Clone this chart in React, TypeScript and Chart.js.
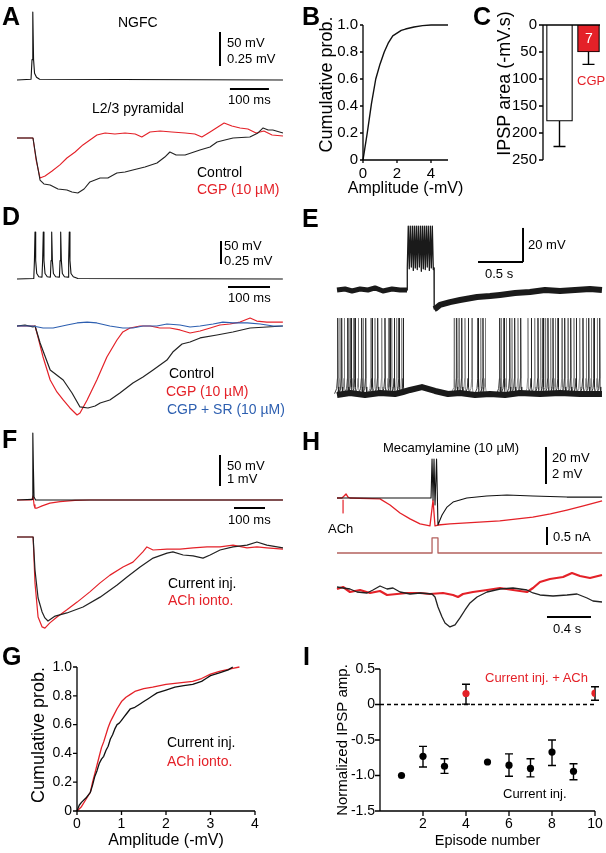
import React, { useEffect, useRef } from 'react';
import { Chart, registerables } from 'chart.js';

Chart.register(...registerables);

const FONT = '"Liberation Sans", Arial, Helvetica, sans-serif';
Chart.defaults.font.family = FONT;

const RED = '#e42128';
const BLUE = '#2d5fb0';
const STIM = '#b4615e';

// ---------------- Panel A (ms, mV) ----------------
const A_NGFC_T = [0, 36, 38.5, 40.5, 42.5, 45, 50, 58, 682];
const A_NGFC_V = [-60, -59, -30, 40, -30, -50, -56, -59, -60];
const A_CTRL_T = [0, 41, 49, 59, 69, 85, 105, 128, 141, 156, 172, 187, 213, 233, 256, 277, 297, 328, 359, 379, 392, 408, 431, 469, 495, 513, 533, 554, 597, 618, 631, 644, 656, 682];
const A_CTRL_V = [0, 0, -0.147, -0.309, -0.338, -0.345, -0.375, -0.382, -0.397, -0.404, -0.375, -0.323, -0.294, -0.294, -0.257, -0.25, -0.235, -0.213, -0.184, -0.14, -0.103, -0.125, -0.125, -0.088, -0.066, -0.029, -0.015, 0, 0.007, 0.037, 0.074, 0.059, 0.059, 0.037];
const A_CGP_T = [0, 41, 49, 59, 72, 90, 110, 128, 149, 169, 187, 205, 226, 251, 277, 303, 320, 341, 367, 397, 431, 456, 474, 495, 515, 531, 551, 572, 592, 613, 633, 654, 682];
const A_CGP_V = [0, 0, -0.162, -0.294, -0.279, -0.243, -0.198, -0.147, -0.103, -0.051, -0.015, 0.022, 0.037, 0.029, 0.037, 0.029, 0.007, 0.044, 0.051, 0.044, 0.037, 0.029, 0.007, 0.044, 0.081, 0.11, 0.088, 0.074, 0.066, 0.037, 0.051, 0.022, 0.015];

// ---------------- Panel B ----------------
const B_AMP = [0, 0.1, 0.25, 0.5, 0.75, 1.0, 1.25, 1.5, 1.75, 2.0, 2.25, 2.5, 3.0, 3.5, 4.0, 5.0];
const B_PROB = [0, 0.08, 0.2, 0.42, 0.6, 0.71, 0.8, 0.87, 0.92, 0.94, 0.96, 0.97, 0.985, 0.995, 1, 1];
const B_YTICKS = [0, 0.2, 0.4, 0.6, 0.8, 1.0];
const B_YLABELS = ['0', '0.2', '0.4', '0.6', '0.8', '1.0'];
const B_XTICKS = [0, 2, 4];
const B_XLABELS = ['0', '2', '4'];

// ---------------- Panel C ----------------
const C_GROUPS = ['Control', 'CGP'];
const C_AREA = [178, 50];
const C_ERR = [225, 73];
const C_YTICKS = [0, 50, 100, 150, 200, 250];
const C_YLABELS = ['0', '50', '100', '150', '200', '250'];

// ---------------- Panel D (ms, mV) ----------------
const D_NGFC_T = [0, 40, 41.5, 42.9, 44.5, 47, 52, 59.5, 61, 62.6, 64.2, 66.7, 72, 79.5, 81, 82.6, 84.2, 86.7, 92, 101, 102.5, 104, 105.6, 108, 113, 121.5, 123, 124.5, 126.1, 128.6, 134, 145, 633];
const D_NGFC_V = [-60, -59, -20, 42, -20, -48, -55, -56, -20, 42, -20, -48, -55, -56, -20, 42, -20, -48, -55, -56, -20, 42, -20, -48, -55, -56, -20, 42, -20, -48, -55, -59, -60];
const D_CTRL_T = [0, 19, 38, 43, 55, 79, 110, 131, 150, 169, 186, 198, 221, 245, 276, 300, 324, 357, 371, 393, 412, 436, 476, 514, 555, 595, 633];
const D_CTRL_V = [0, 0.011, -0.011, 0, -0.185, -0.478, -0.587, -0.728, -0.88, -0.891, -0.87, -0.837, -0.804, -0.728, -0.62, -0.554, -0.478, -0.37, -0.283, -0.196, -0.174, -0.13, -0.098, -0.065, -0.022, -0.011, 0];
const D_CGP_T = [0, 43, 50, 62, 79, 95, 110, 126, 143, 150, 167, 190, 214, 238, 252, 269, 293, 317, 340, 364, 388, 412, 436, 460, 483, 507, 531, 555, 571, 595, 633];
const D_CGP_V = [0, 0, -0.12, -0.337, -0.587, -0.717, -0.804, -0.891, -0.967, -0.946, -0.804, -0.587, -0.337, -0.152, -0.065, -0.022, 0, 0, -0.022, -0.022, -0.043, -0.076, -0.054, -0.022, 0.011, 0.022, 0.043, 0.087, 0.054, 0.043, 0.043];
const D_SR_T = [0, 38, 62, 86, 119, 143, 167, 190, 221, 252, 276, 300, 333, 357, 388, 412, 436, 467, 490, 514, 548, 579, 610, 633];
const D_SR_V = [0, 0, -0.022, -0.022, 0.011, 0.033, 0.043, 0.033, 0, -0.022, -0.022, 0, 0, 0.022, 0.011, -0.011, 0, 0.022, 0.043, 0.033, 0.033, 0.022, 0, 0];

// ---------------- Panel E (s, mV) ----------------
const E_PRE_T = [0, 0.089, 0.167, 0.256, 0.344, 0.422, 0.511, 0.611, 0.7, 0.778];
const E_PRE_V = [-60, -59.4, -60.6, -59.4, -60, -58.8, -60.6, -59.4, -60, -60];
const E_BURST_T = [0.778, 0.781, 0.792, 0.803, 0.814, 0.826, 0.837, 0.848, 0.859, 0.87, 0.881, 0.892, 0.903, 0.915, 0.926, 0.937, 0.948, 0.959, 0.97, 0.981, 0.992, 1.003, 1.014, 1.026, 1.037, 1.048, 1.059, 1.07, 1.078, 1.08];
const E_BURST_V = [-60, -47, -22.4, -47.5, -22.4, -46.5, -22.4, -48.5, -22.4, -47, -22.4, -48, -22.4, -46.5, -22.4, -49, -22.4, -47.5, -22.4, -48, -22.4, -46.5, -22.4, -48.5, -22.4, -47, -22.4, -48, -47, -71.2];
const E_POST_T = [1.08, 1.1, 1.144, 1.256, 1.367, 1.556, 1.7, 1.811, 1.978, 2.144, 2.311, 2.478, 2.644, 2.811, 2.944];
const E_POST_V = [-71.2, -70.6, -68.8, -67.1, -65.9, -64.1, -63.5, -62.9, -61.8, -61.2, -60, -60.6, -60, -59.4, -60];
const E_SPIKES = [0.008, 0.033, 0.052, 0.081, 0.119, 0.133, 0.156, 0.181, 0.2, 0.237, 0.274, 0.292, 0.319, 0.378, 0.392, 0.422, 0.452, 0.497, 0.533, 0.57, 0.589, 0.608, 0.637, 0.663, 0.689, 0.719, 0.737,
  1.303, 1.33, 1.356, 1.386, 1.422, 1.459, 1.5, 1.567, 1.597, 1.622, 1.648, 1.808, 1.826, 1.856, 1.881, 1.919, 1.944, 1.974, 2.011, 2.041, 2.122, 2.159, 2.197, 2.233, 2.263, 2.289, 2.314, 2.344, 2.374, 2.4, 2.426, 2.456, 2.5, 2.53, 2.567, 2.597, 2.633, 2.659, 2.697, 2.733, 2.77, 2.797, 2.826, 2.856, 2.892, 2.919];
const E_SPIKE_PEAK = -16.5;
const E_SPIKE_BASE = -60;
const E_BASE_T = [0, 0.144, 0.311, 0.478, 0.644, 0.733, 0.811, 0.944, 1.089, 1.233, 1.367, 1.533, 1.7, 1.867, 2.033, 2.256, 2.478, 2.7, 2.944];
const E_BASE_V = [-61.8, -60.6, -61.8, -60.6, -61.2, -60, -58.8, -57.1, -59.4, -61.2, -60.6, -61.8, -61.2, -61.8, -60.6, -61.2, -60.6, -61.2, -61.2];

// ---------------- Panel F (ms, mV) ----------------
const F_SPK_T = [0, 49, 50.5, 51.6, 53, 55, 60, 858];
const F_SPK_V = [-60, -59, -10, 48, -10, -55, -60, -60];
const F_TOPACH_T = [0, 48, 52, 55, 58, 65, 81, 106, 139, 187, 235, 858];
const F_TOPACH_V = [0, 0, 0.13, -0.16, -0.26, -0.26, -0.19, -0.1, -0.05, -0.015, 0, 0];
const F_CUR_T = [0, 52, 58, 68, 81, 90, 100, 123, 161, 213, 268, 323, 355, 397, 439, 484, 503, 536, 568, 600, 623, 655, 697, 742, 774, 806, 858];
const F_CUR_V = [0, 0, -1.065, -1.968, -2.42, -2.61, -2.71, -2.55, -2.45, -2.26, -1.94, -1.55, -1.29, -0.97, -0.68, -0.52, -0.48, -0.58, -0.61, -0.68, -0.58, -0.42, -0.32, -0.26, -0.16, -0.26, -0.35];
const F_ACH_T = [0, 52, 58, 68, 81, 90, 106, 129, 161, 194, 235, 268, 300, 342, 374, 406, 419, 439, 484, 526, 568, 613, 655, 697, 742, 774, 806, 858];
const F_ACH_V = [0, 0, -1.48, -2.58, -2.9, -2.94, -2.77, -2.58, -2.35, -2.1, -1.77, -1.48, -1.23, -0.97, -0.81, -0.48, -0.32, -0.42, -0.39, -0.39, -0.35, -0.32, -0.32, -0.26, -0.35, -0.32, -0.35, -0.39];

// ---------------- Panel G ----------------
const G_CUR_AMP = [0, 0.05, 0.1, 0.2, 0.3, 0.35, 0.4, 0.45, 0.5, 0.55, 0.6, 0.65, 0.7, 0.75, 0.8, 0.85, 0.9, 0.95, 1.0, 1.05, 1.1, 1.2, 1.3, 1.4, 1.5, 1.6, 1.7, 1.8, 2.0, 2.2, 2.4, 2.6, 2.8, 2.9, 3.0, 3.2, 3.4, 3.5];
const G_CUR_P = [0, 0.04, 0.06, 0.09, 0.13, 0.18, 0.24, 0.28, 0.33, 0.36, 0.38, 0.42, 0.45, 0.5, 0.53, 0.57, 0.6, 0.61, 0.63, 0.65, 0.67, 0.71, 0.72, 0.74, 0.76, 0.78, 0.8, 0.82, 0.84, 0.86, 0.87, 0.88, 0.9, 0.92, 0.94, 0.96, 0.98, 1.0];
const G_ACH_AMP = [0, 0.1, 0.2, 0.3, 0.35, 0.4, 0.5, 0.55, 0.6, 0.7, 0.75, 0.8, 0.9, 1.0, 1.1, 1.2, 1.3, 1.5, 1.7, 2.0, 2.3, 2.6, 2.8, 3.0, 3.2, 3.5, 3.65];
const G_ACH_P = [0, 0.03, 0.08, 0.13, 0.2, 0.26, 0.38, 0.44, 0.48, 0.58, 0.62, 0.65, 0.71, 0.76, 0.79, 0.81, 0.83, 0.85, 0.86, 0.88, 0.89, 0.9, 0.92, 0.95, 0.97, 0.99, 1.0];
const G_YTICKS = [0, 0.2, 0.4, 0.6, 0.8, 1.0];
const G_YLABELS = ['0', '0.2', '0.4', '0.6', '0.8', '1.0'];
const G_XTICKS = [0, 1, 2, 3, 4];
const G_XLABELS = ['0', '1', '2', '3', '4'];

// ---------------- Panel H (s, mV / nA) ----------------
const H_TOP_CTRL_T = [0, 0.391, 0.855, 0.864, 0.873, 0.882, 0.891, 0.905, 0.918, 0.936, 0.955, 1.0, 1.055, 1.18, 1.36, 1.545, 1.78, 2.09, 2.41];
const H_TOP_CTRL_V = [-60, -60, -60, -38.9, -61.1, -38.9, -63.8, -38.9, -74.6, -71.9, -69.2, -64.9, -62.2, -60, -58.9, -58.4, -58.9, -59.5, -59.5];
const H_TOP_ACH_T = [0, 0.045, 0.064, 0.082, 0.1, 0.118, 0.391, 0.482, 0.573, 0.664, 0.755, 0.845, 0.873, 0.891, 0.918, 1.027, 1.18, 1.48, 1.78, 1.94, 2.09, 2.24, 2.41];
const H_TOP_ACH_V = [-60, -60, -58.9, -57.8, -59.5, -60, -60.5, -63.8, -68.1, -71.3, -74, -75.1, -61.1, -75.1, -74.6, -74, -73.5, -72.4, -70.3, -68.6, -66.5, -64.3, -61.6];
const H_ACH_MARK_T = [0.055, 0.055];
const H_ACH_MARK_V = [-61.1, -68.1];
const H_STIM_T = [0, 0.864, 0.864, 0.918, 0.918, 2.41];
const H_STIM_I = [0, 0, 0.42, 0.42, 0, 0];
const H_BOT_CTRL_T = [0, 0.055, 0.118, 0.182, 0.273, 0.327, 0.391, 0.455, 0.509, 0.573, 0.664, 0.755, 0.864, 0.891, 0.918, 0.955, 0.982, 1.027, 1.073, 1.118, 1.164, 1.209, 1.273, 1.364, 1.482, 1.6, 1.727, 1.782, 1.845, 1.964, 2.091, 2.182, 2.273, 2.327, 2.409];
const H_BOT_CTRL_V = [0.162, 0.108, 0.054, -0.108, -0.162, 0, 0.216, 0.054, 0.108, -0.108, -0.216, -0.162, -0.216, -0.378, -0.918, -1.458, -1.782, -1.998, -1.89, -1.512, -1.08, -0.702, -0.378, -0.108, 0.054, 0.108, 0, -0.162, -0.27, -0.324, -0.27, -0.216, -0.432, -0.594, -0.648];
const H_BOT_ACH_T = [0, 0.055, 0.118, 0.209, 0.3, 0.391, 0.455, 0.545, 0.636, 0.755, 0.845, 0.964, 1.055, 1.1, 1.145, 1.236, 1.364, 1.482, 1.6, 1.727, 1.782, 1.845, 1.936, 2.055, 2.136, 2.209, 2.3, 2.409];
const H_BOT_ACH_V = [0.054, 0.162, -0.108, 0, -0.162, -0.054, -0.27, -0.216, -0.162, -0.162, -0.216, -0.162, -0.27, -0.378, -0.216, -0.108, 0, 0.108, 0, -0.108, 0.108, 0.432, 0.594, 0.702, 0.918, 0.756, 0.648, 0.81];

// ---------------- Panel I ----------------
const I_EP = [1, 2, 3, 5, 6, 7, 8, 9];
const I_VAL = [-1.0, -0.73, -0.87, -0.81, -0.855, -0.9, -0.67, -0.94];
const I_HI = [null, -0.59, -0.765, null, -0.695, -0.765, -0.5, -0.835];
const I_LO = [null, -0.88, -0.97, null, -1.01, -1.02, -0.86, -1.06];
const I_ACH_EP = [4, 10];
const I_ACH_VAL = [0.155, 0.16];
const I_ACH_HI = [0.286, 0.25];
const I_ACH_LO = [0.005, 0.06];
const I_YTICKS = [0.5, 0, -0.5, -1.0, -1.5];
const I_YLABELS = ['0.5', '0', '-0.5', '-1.0', '-1.5'];
const I_XTICKS = [2, 4, 6, 8, 10];
const I_XLABELS = ['2', '4', '6', '8', '10'];

// ---------------- helpers ----------------
type R = { min: number; max: number };
function hRange(cLeft: number, cWidth: number, px0: number, v0: number, ppu: number): R {
  return { min: v0 - (px0 - cLeft) / ppu, max: v0 + (cLeft + cWidth - px0) / ppu };
}
function vRange(cTop: number, cHeight: number, py0: number, v0: number, ppu: number): R {
  return { min: v0 - (cTop + cHeight - py0) / ppu, max: v0 + (py0 - cTop) / ppu };
}
function xy(ts: number[], vs: (number | null)[]) {
  return ts.map((t, i) => ({ x: t, y: vs[i] }));
}
function trace(ts: number[], vs: number[], color: string, width: number, axis: string): any {
  return {
    type: 'line', data: xy(ts, vs), borderColor: color, borderWidth: width, pointRadius: 0,
    tension: 0, fill: false, yAxisID: axis, clip: false, borderJoinStyle: 'round', spanGaps: false,
  };
}

function barPlugin(bars: any[]) {
  return {
    id: 'scaleBars',
    afterDatasetsDraw(chart: any) {
      const { ctx } = chart;
      ctx.save();
      ctx.lineWidth = 2;
      ctx.strokeStyle = '#000';
      ctx.lineCap = 'butt';
      for (const b of bars) {
        const xs = chart.scales.x;
        const ys = chart.scales[b.axis];
        ctx.beginPath();
        ctx.moveTo(xs.getPixelForValue(b.x), ys.getPixelForValue(b.y));
        ctx.lineTo(xs.getPixelForValue(b.x + (b.dx || 0)), ys.getPixelForValue(b.y + (b.dy || 0)));
        ctx.stroke();
      }
      ctx.restore();
    },
  };
}

function axesPlugin(axes: any[]) {
  return {
    id: 'sciAxes',
    afterDraw(chart: any) {
      const { ctx, chartArea: ca } = chart;
      ctx.save();
      ctx.strokeStyle = '#000';
      ctx.fillStyle = '#000';
      ctx.lineWidth = 1.3;
      for (const a of axes) {
        const sc = chart.scales[a.scale];
        const tl = a.tickLen ?? 4;
        if (a.side === 'left') {
          const x0 = ca.left - (a.offset || 0);
          const y1 = sc.getPixelForValue(a.from);
          const y2 = sc.getPixelForValue(a.to);
          ctx.beginPath();
          ctx.moveTo(x0, y1);
          ctx.lineTo(x0, y2);
          (a.ticks || []).forEach((v: number) => {
            const y = sc.getPixelForValue(v);
            ctx.moveTo(x0, y);
            ctx.lineTo(x0 - tl, y);
          });
          ctx.stroke();
          ctx.font = `${a.tickFont}px ${FONT}`;
          ctx.textAlign = 'right';
          ctx.textBaseline = 'middle';
          (a.ticks || []).forEach((v: number, i: number) => ctx.fillText(a.labels[i], x0 - a.labelGap, sc.getPixelForValue(v)));
          if (a.title) {
            ctx.save();
            ctx.translate(x0 - a.titleGap, (y1 + y2) / 2 + (a.titleShift || 0));
            ctx.rotate(-Math.PI / 2);
            ctx.textAlign = 'center';
            ctx.textBaseline = 'middle';
            ctx.font = `${a.titleFont}px ${FONT}`;
            ctx.fillText(a.title, 0, 0);
            ctx.restore();
          }
        } else if (a.side === 'bottom') {
          const y0 = ca.bottom + (a.offset || 0);
          const x1 = sc.getPixelForValue(a.from);
          const x2 = sc.getPixelForValue(a.to);
          ctx.beginPath();
          ctx.moveTo(x1, y0);
          ctx.lineTo(x2, y0);
          (a.ticks || []).forEach((v: number) => {
            const x = sc.getPixelForValue(v);
            ctx.moveTo(x, y0);
            ctx.lineTo(x, y0 + tl);
          });
          ctx.stroke();
          ctx.font = `${a.tickFont}px ${FONT}`;
          ctx.textAlign = 'center';
          ctx.textBaseline = 'alphabetic';
          (a.ticks || []).forEach((v: number, i: number) => ctx.fillText(a.labels[i], sc.getPixelForValue(v), y0 + a.labelGap));
          if (a.title) {
            ctx.font = `${a.titleFont}px ${FONT}`;
            ctx.fillText(a.title, (x1 + x2) / 2 + (a.titleShift || 0), y0 + a.titleGap);
          }
        } else if (a.side === 'top') {
          ctx.beginPath();
          ctx.moveTo(ca.left - (a.offset || 0), ca.top);
          ctx.lineTo(ca.right - (a.trim || 0), ca.top);
          ctx.stroke();
        }
      }
      ctx.restore();
    },
  };
}

function errPlugin(sets: any[], before: boolean) {
  const draw = (chart: any) => {
    const { ctx } = chart;
    ctx.save();
    ctx.strokeStyle = '#000';
    ctx.lineWidth = 1.4;
    for (const e of sets) {
      const meta = chart.getDatasetMeta(e.dataset);
      const ys = chart.scales[meta.yAxisID];
      e.hi.forEach((hi: number | null, i: number) => {
        if (hi == null || e.lo[i] == null) return;
        const el = meta.data[i];
        if (!el) return;
        const x = el.x;
        const yh = ys.getPixelForValue(hi);
        const yl = ys.getPixelForValue(e.lo[i]);
        ctx.beginPath();
        ctx.moveTo(x, yh);
        ctx.lineTo(x, yl);
        ctx.moveTo(x - e.cap, yh);
        ctx.lineTo(x + e.cap, yh);
        if (e.bothCaps) {
          ctx.moveTo(x - e.cap, yl);
          ctx.lineTo(x + e.cap, yl);
        }
        ctx.stroke();
      });
    }
    ctx.restore();
  };
  return before ? { id: 'errBars', beforeDatasetsDraw: draw } : { id: 'errBars', afterDatasetsDraw: draw };
}

function baseOptions(padding: any, scales: any) {
  return {
    animation: false,
    responsive: false,
    events: [],
    layout: { padding },
    plugins: { legend: { display: false }, tooltip: { enabled: false }, title: { display: false } },
    scales,
  };
}

function traceCfg(x: R, y: Record<string, R>, datasets: any[], bars: any[]) {
  const scales: any = { x: { type: 'linear', display: false, min: x.min, max: x.max } };
  Object.keys(y).forEach((k) => {
    scales[k] = { type: 'linear', display: false, min: y[k].min, max: y[k].max };
  });
  return { type: 'line', data: { datasets }, options: baseOptions(0, scales), plugins: [barPlugin(bars)] };
}

// ---------------- chart configs ----------------
const A_RECT = [10, 0, 280, 200];
function cfgA() {
  const [l, t, w, h] = A_RECT;
  return traceCfg(
    hRange(l, w, 17, 0, 0.39),
    { yN: vRange(t, h, 80, -60, 0.68), yP: vRange(t, h, 138, 0, 136) },
    [
      trace(A_NGFC_T, A_NGFC_V, '#111', 1.1, 'yN'),
      trace(A_CTRL_T, A_CTRL_V, '#222', 1.1, 'yP'),
      trace(A_CGP_T, A_CGP_V, RED, 1.1, 'yP'),
    ],
    [
      { axis: 'yN', x: 520.5, y: -39.4, dy: 50 },
      { axis: 'yN', x: 546, y: -73.2, dx: 100 },
    ],
  );
}

const D_RECT = [10, 200, 280, 225];
function cfgD() {
  const [l, t, w, h] = D_RECT;
  return traceCfg(
    hRange(l, w, 17, 0, 0.42),
    { yN: vRange(t, h, 279, -60, 0.46), yP: vRange(t, h, 326, 0, 92) },
    [
      trace(D_NGFC_T, D_NGFC_V, '#111', 1.1, 'yN'),
      trace(D_SR_T, D_SR_V, BLUE, 1.2, 'yP'),
      trace(D_CTRL_T, D_CTRL_V, '#222', 1.2, 'yP'),
      trace(D_CGP_T, D_CGP_V, RED, 1.2, 'yP'),
    ],
    [
      { axis: 'yN', x: 485.7, y: -27.4, dy: 50 },
      { axis: 'yN', x: 502.4, y: -77.4, dx: 100 },
    ],
  );
}

const F_RECT = [10, 425, 280, 220];
function cfgF() {
  const [l, t, w, h] = F_RECT;
  return traceCfg(
    hRange(l, w, 17, 0, 0.31),
    { yS: vRange(t, h, 500, -60, 0.62), yR: vRange(t, h, 500, 0, 31), yB: vRange(t, h, 537, 0, 31) },
    [
      trace(F_SPK_T, F_SPK_V, '#111', 1.1, 'yS'),
      trace(F_TOPACH_T, F_TOPACH_V, RED, 1.2, 'yR'),
      trace(F_CUR_T, F_CUR_V, '#222', 1.2, 'yB'),
      trace(F_ACH_T, F_ACH_V, RED, 1.2, 'yB'),
    ],
    [
      { axis: 'yR', x: 654.8, y: 0.452, dy: 1 },
      { axis: 'yR', x: 700, y: -0.258, dx: 100 },
    ],
  );
}

const E_RECT = [330, 205, 276, 200];
function rasterData(times: number[]) {
  const pts: any[] = [];
  times.forEach((s) => {
    pts.push(
      { x: s - 0.035, y: E_SPIKE_BASE - 1 },
      { x: s - 0.012, y: E_SPIKE_BASE + 2 },
      { x: s - 0.003, y: E_SPIKE_BASE + 8 },
      { x: s, y: E_SPIKE_PEAK },
      { x: s + 0.004, y: E_SPIKE_BASE + 3 },
      { x: s + 0.012, y: E_SPIKE_BASE - 1 },
      { x: s + 0.0121, y: null },
    );
  });
  return pts;
}
function cfgE() {
  const [l, t, w, h] = E_RECT;
  const even = E_SPIKES.filter((_, i) => i % 2 === 0);
  const odd = E_SPIKES.filter((_, i) => i % 2 === 1);
  const rs = (pts: any[], color: string) => ({
    type: 'line', data: pts, borderColor: color, borderWidth: 1, pointRadius: 0, tension: 0,
    fill: false, yAxisID: 'yR', clip: false, spanGaps: false,
  });
  return traceCfg(
    hRange(l, w, 337, 0, 90),
    { yT: vRange(t, h, 290, -60, 1.7), yR: vRange(t, h, 392, -60, 1.7) },
    [
      trace(E_PRE_T, E_PRE_V, '#1a1a1a', 5, 'yT'),
      trace(E_BURST_T, E_BURST_V, '#1a1a1a', 1.3, 'yT'),
      trace(E_POST_T, E_POST_V, '#1a1a1a', 6, 'yT'),
      trace(E_BASE_T, E_BASE_V, '#1a1a1a', 6, 'yR'),
      rs(rasterData(even), 'rgba(30,30,30,0.85)'),
      rs(rasterData(odd), 'rgba(120,120,120,0.8)'),
    ],
    [
      { axis: 'yT', x: 2.067, y: -43.5, dy: 20 },
      { axis: 'yT', x: 1.567, y: -43.5, dx: 0.5 },
    ],
  );
}

const H_RECT = [330, 440, 276, 205];
function cfgH() {
  const [l, t, w, h] = H_RECT;
  return traceCfg(
    hRange(l, w, 337, 0, 110),
    { yT: vRange(t, h, 498, -60, 1.85), yI: vRange(t, h, 553, 0, 36), yB: vRange(t, h, 590, 0, 18.5) },
    [
      trace(H_TOP_CTRL_T, H_TOP_CTRL_V, '#111', 1.1, 'yT'),
      trace(H_TOP_ACH_T, H_TOP_ACH_V, RED, 1.3, 'yT'),
      trace(H_ACH_MARK_T, H_ACH_MARK_V, RED, 1.2, 'yT'),
      trace(H_STIM_T, H_STIM_I, STIM, 1.3, 'yI'),
      trace(H_BOT_CTRL_T, H_BOT_CTRL_V, '#222', 1.3, 'yB'),
      trace(H_BOT_ACH_T, H_BOT_ACH_V, RED, 2.2, 'yB'),
    ],
    [
      { axis: 'yT', x: 1.9, y: -52.4, dy: 20 },
      { axis: 'yI', x: 1.909, y: 0.222, dy: 0.5 },
      { axis: 'yB', x: 1.909, y: -1.459, dx: 0.4 },
    ],
  );
}

const B_RECT = [300, 5, 172, 200];
function cfgB() {
  return {
    type: 'line',
    data: { datasets: [trace(B_AMP, B_PROB, '#111', 1.4, 'y')] },
    options: baseOptions({ left: 63, top: 20, right: 24, bottom: 45 }, {
      x: { type: 'linear', display: false, min: 0, max: 5 },
      y: { type: 'linear', display: false, min: 0, max: 1 },
    }),
    plugins: [axesPlugin([
      { scale: 'y', side: 'left', from: 0, to: 1, ticks: B_YTICKS, labels: B_YLABELS, tickLen: 3, labelGap: 5, tickFont: 15, title: 'Cumulative prob.', titleFont: 18, titleGap: 36, titleShift: -8 },
      { scale: 'x', side: 'bottom', from: 0, to: 5, ticks: B_XTICKS, labels: B_XLABELS, tickLen: 3, labelGap: 18, tickFont: 15, title: 'Amplitude (-mV)', titleFont: 16, titleGap: 33 },
    ])],
  };
}

const C_RECT = [460, 5, 146, 200];
function cfgC() {
  return {
    type: 'bar',
    data: {
      labels: C_GROUPS,
      datasets: [
        { data: [C_AREA[0], null], backgroundColor: '#fff', borderColor: '#000', borderWidth: 1.2, barThickness: 26, grouped: false },
        { data: [null, C_AREA[1]], backgroundColor: RED, borderColor: '#000', borderWidth: 1.2, barThickness: 22, grouped: false },
      ],
    },
    options: baseOptions({ left: 85, top: 20, right: 3, bottom: 45 }, {
      x: { type: 'category', display: false, offset: true },
      y: { type: 'linear', display: false, min: 0, max: 250, reverse: true },
    }),
    plugins: [
      errPlugin([
        { dataset: 0, lo: [C_AREA[0], null], hi: [C_ERR[0], null], cap: 6, bothCaps: false },
        { dataset: 1, lo: [null, C_AREA[1]], hi: [null, C_ERR[1]], cap: 6, bothCaps: false },
      ], false),
      axesPlugin([
        { scale: 'y', side: 'left', offset: 2, from: 0, to: 250, ticks: C_YTICKS, labels: C_YLABELS, tickLen: 4, labelGap: 6, tickFont: 15, title: 'IPSP area (-mV.s)', titleFont: 18, titleGap: 38, titleShift: -9 },
        { scale: 'x', side: 'top', offset: 2, trim: 3 },
      ]),
    ],
  };
}

const G_RECT = [0, 640, 300, 213];
function cfgG() {
  return {
    type: 'line',
    data: {
      datasets: [
        trace(G_CUR_AMP, G_CUR_P, '#111', 1.3, 'y'),
        trace(G_ACH_AMP, G_ACH_P, RED, 1.3, 'y'),
      ],
    },
    options: baseOptions({ left: 77, top: 27, right: 45, bottom: 42 }, {
      x: { type: 'linear', display: false, min: 0, max: 4 },
      y: { type: 'linear', display: false, min: 0, max: 1 },
    }),
    plugins: [axesPlugin([
      { scale: 'y', side: 'left', from: 0, to: 1, ticks: G_YTICKS, labels: G_YLABELS, tickLen: 4, labelGap: 5, tickFont: 14, title: 'Cumulative prob.', titleFont: 18, titleGap: 38, titleShift: -4 },
      { scale: 'x', side: 'bottom', from: 0, to: 4, ticks: G_XTICKS, labels: G_XLABELS, tickLen: 4, labelGap: 17, tickFont: 14, title: 'Amplitude (-mV)', titleFont: 16, titleGap: 34 },
    ])],
  };
}

const I_RECT = [300, 640, 306, 213];
function cfgI() {
  return {
    type: 'scatter',
    data: {
      datasets: [
        { data: xy(I_EP, I_VAL), pointRadius: 3.6, pointBackgroundColor: '#000', pointBorderWidth: 0, showLine: false },
        { data: xy(I_ACH_EP, I_ACH_VAL), pointRadius: 3.6, pointBackgroundColor: RED, pointBorderWidth: 0, showLine: false },
        { data: xy([0, 10], [0, 0]), showLine: true, borderColor: '#000', borderWidth: 1.3, borderDash: [4, 3], pointRadius: 0 },
      ],
    },
    options: baseOptions({ left: 80, top: 29, right: 11, bottom: 42 }, {
      x: { type: 'linear', display: false, min: 0, max: 10 },
      y: { type: 'linear', display: false, min: -1.5, max: 0.5 },
    }),
    plugins: [
      errPlugin([
        { dataset: 0, lo: I_LO, hi: I_HI, cap: 4, bothCaps: true },
        { dataset: 1, lo: I_ACH_LO, hi: I_ACH_HI, cap: 4, bothCaps: true },
      ], true),
      axesPlugin([
        { scale: 'y', side: 'left', from: -1.5, to: 0.5, ticks: I_YTICKS, labels: I_YLABELS, tickLen: 5, labelGap: 5, tickFont: 14, title: 'Normalized IPSP amp.', titleFont: 15, titleGap: 37 },
        { scale: 'x', side: 'bottom', from: 0, to: 10, ticks: I_XTICKS, labels: I_XLABELS, tickLen: 5, labelGap: 17, tickFont: 14, title: 'Episode number', titleFont: 14.5, titleGap: 34 },
      ]),
    ],
  };
}

// ---------------- components ----------------
function ChartBox({ rect, make }: { rect: number[]; make: () => any }) {
  const ref = useRef<HTMLCanvasElement>(null);
  useEffect(() => {
    const c = new Chart(ref.current as HTMLCanvasElement, make());
    return () => c.destroy();
  }, []);
  const [l, t, w, h] = rect;
  return (
    <canvas ref={ref} width={w} height={h}
      style={{ position: 'absolute', left: l, top: t, width: w, height: h }} />
  );
}

function Txt({ x, y, s = 14, c = '#000', b = false, center = false, children }: any) {
  const style: React.CSSProperties = {
    position: 'absolute', left: x, top: y - 0.8465 * s, fontSize: s, lineHeight: `${s}px`,
    fontFamily: FONT, color: c, fontWeight: b ? 'bold' : 'normal', whiteSpace: 'nowrap',
    transform: center ? 'translateX(-50%)' : undefined,
  };
  return <div style={style}>{children}</div>;
}

export default function App() {
  return (
    <div style={{ position: 'absolute', left: 0, top: 0, width: 606, height: 853, background: '#fff', overflow: 'hidden' }}>
      <ChartBox rect={A_RECT} make={cfgA} />
      <ChartBox rect={B_RECT} make={cfgB} />
      <ChartBox rect={C_RECT} make={cfgC} />
      <ChartBox rect={D_RECT} make={cfgD} />
      <ChartBox rect={E_RECT} make={cfgE} />
      <ChartBox rect={F_RECT} make={cfgF} />
      <ChartBox rect={H_RECT} make={cfgH} />
      <ChartBox rect={G_RECT} make={cfgG} />
      <ChartBox rect={I_RECT} make={cfgI} />

      {/* panel letters */}
      <Txt x={2} y={25} s={25} b>A</Txt>
      <Txt x={302} y={25} s={25} b>B</Txt>
      <Txt x={473} y={25} s={25} b>C</Txt>
      <Txt x={2} y={225} s={25} b>D</Txt>
      <Txt x={302} y={227} s={25} b>E</Txt>
      <Txt x={2} y={448} s={25} b>F</Txt>
      <Txt x={302} y={450} s={25} b>H</Txt>
      <Txt x={2} y={665} s={25} b>G</Txt>
      <Txt x={303} y={665} s={25} b>I</Txt>

      {/* A */}
      <Txt x={118} y={27} s={14}>NGFC</Txt>
      <Txt x={227} y={47} s={13}>50 mV</Txt>
      <Txt x={227} y={63} s={13}>0.25 mV</Txt>
      <Txt x={228} y={104} s={13}>100 ms</Txt>
      <Txt x={92} y={113} s={14}>L2/3 pyramidal</Txt>
      <Txt x={197} y={177} s={14}>Control</Txt>
      <Txt x={197} y={194} s={14} c={RED}>CGP (10 µM)</Txt>

      {/* C */}
      <Txt x={589} y={43} s={14} c="#fff" center>7</Txt>
      <Txt x={577} y={85} s={13} c={RED}>CGP</Txt>

      {/* D */}
      <Txt x={224} y={250} s={13}>50 mV</Txt>
      <Txt x={224} y={265} s={13}>0.25 mV</Txt>
      <Txt x={228} y={302} s={13}>100 ms</Txt>
      <Txt x={169} y={378} s={14}>Control</Txt>
      <Txt x={166} y={396} s={14} c={RED}>CGP (10 µM)</Txt>
      <Txt x={167} y={414} s={14} c={BLUE}>CGP + SR (10 µM)</Txt>

      {/* E */}
      <Txt x={528} y={249} s={13}>20 mV</Txt>
      <Txt x={485} y={278} s={13}>0.5 s</Txt>

      {/* F */}
      <Txt x={227} y={470} s={13}>50 mV</Txt>
      <Txt x={227} y={483} s={13}>1 mV</Txt>
      <Txt x={228} y={524} s={13}>100 ms</Txt>
      <Txt x={168} y={588} s={14}>Current inj.</Txt>
      <Txt x={168} y={605} s={14} c={RED}>ACh ionto.</Txt>

      {/* H */}
      <Txt x={383} y={452} s={13}>Mecamylamine (10 µM)</Txt>
      <Txt x={552} y={462} s={13}>20 mV</Txt>
      <Txt x={552} y={478} s={13}>2 mV</Txt>
      <Txt x={328} y={533} s={13}>ACh</Txt>
      <Txt x={553} y={541} s={13}>0.5 nA</Txt>
      <Txt x={553} y={633} s={13}>0.4 s</Txt>

      {/* G */}
      <Txt x={167} y={747} s={14}>Current inj.</Txt>
      <Txt x={167} y={766} s={14} c={RED}>ACh ionto.</Txt>

      {/* I */}
      <Txt x={485} y={682} s={13} c={RED}>Current inj. + ACh</Txt>
      <Txt x={503} y={798} s={13}>Current inj.</Txt>
    </div>
  );
}
